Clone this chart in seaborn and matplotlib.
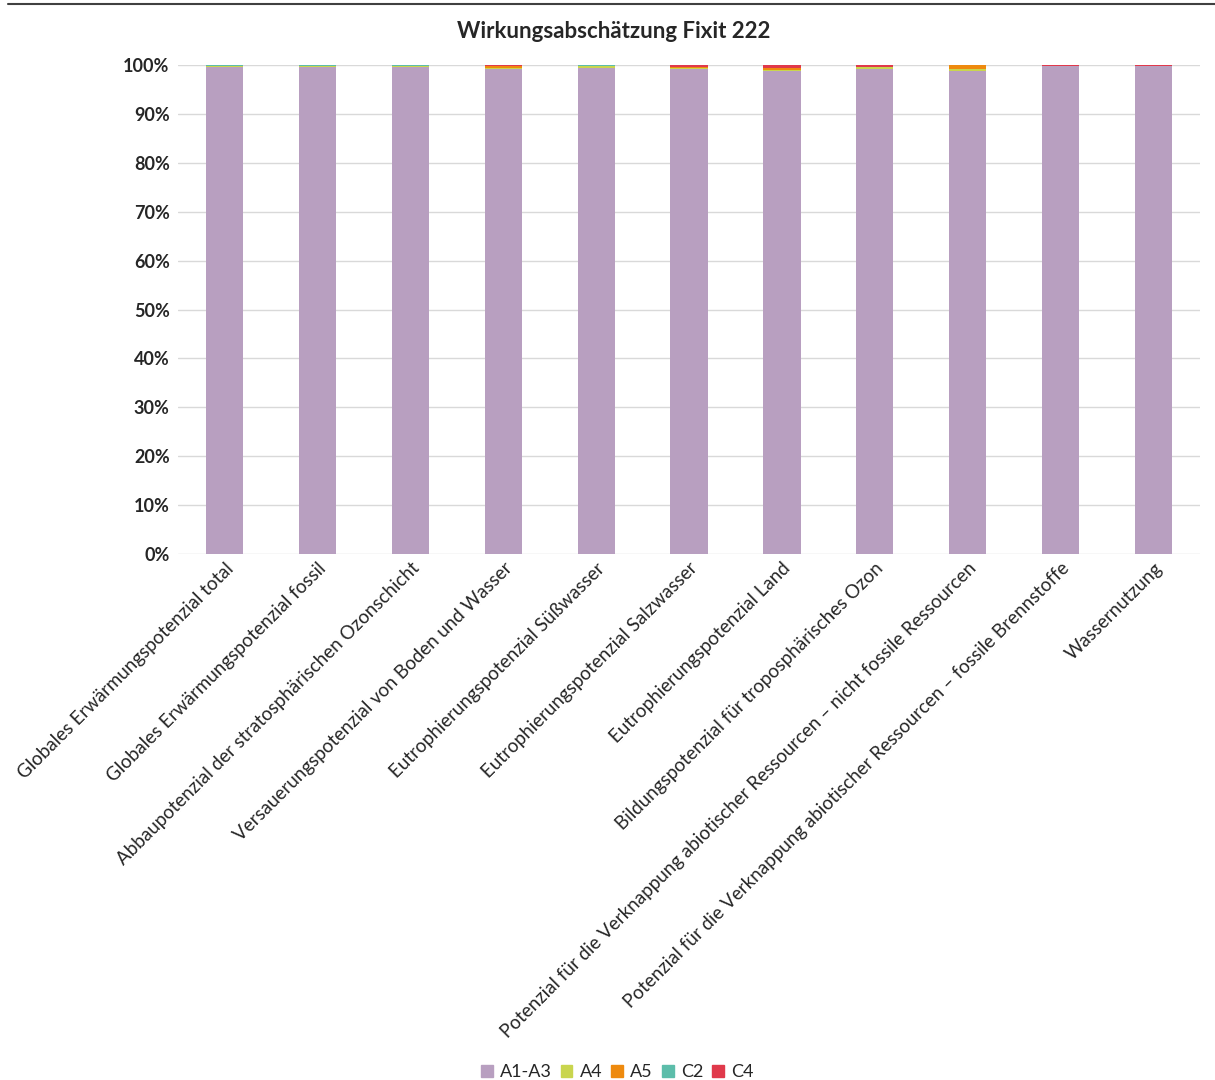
import numpy as np
import matplotlib.pyplot as plt
import matplotlib.lines as mlines
import seaborn as sns
import pandas as pd

categories = [
    "Globales Erwärmungspotenzial total",
    "Globales Erwärmungspotenzial fossil",
    "Abbaupotenzial der stratosphärischen Ozonschicht",
    "Versauerungspotenzial von Boden und Wasser",
    "Eutrophierungspotenzial Süßwasser",
    "Eutrophierungspotenzial Salzwasser",
    "Eutrophierungspotenzial Land",
    "Bildungspotenzial für troposphärisches Ozon",
    "Potenzial für die Verknappung abiotischer Ressourcen – nicht fossile Ressourcen",
    "Potenzial für die Verknappung abiotischer Ressourcen – fossile Brennstoffe",
    "Wassernutzung",
]
modules = ["A1-A3", "A4", "A5", "C2", "C4"]
a1_a3 = [99.6, 99.6, 99.6, 99.2, 99.3, 99.1, 98.7, 99.2, 98.8, 99.7, 99.7]
a4 = [0.1, 0.1, 0.1, 0.1, 0.6, 0.2, 0.3, 0.3, 0.3, 0.05, 0.05]
a5 = [0.2, 0.2, 0.2, 0.4, 0.0, 0.2, 0.3, 0.1, 0.9, 0.05, 0.1]
c2 = [0.02, 0.02, 0.02, 0.02, 0.02, 0.02, 0.02, 0.02, 0.02, 0.02, 0.02]
c4 = [0.08, 0.08, 0.08, 0.28, 0.08, 0.48, 0.68, 0.38, 0.0, 0.18, 0.13]
colors = ["#B89FC0", "#C9D54E", "#EE8A0E", "#5CBDAA", "#E0394B"]

series = [a1_a3, a4, a5, c2, c4]

sns.set_theme(style="white")
plt.rcParams["font.family"] = ["Lato", "DejaVu Sans"]

fig = plt.figure(figsize=(12.15, 10.8), dpi=100)
ax = fig.add_axes([0.1465, 0.487, 0.8412, 0.4528])

x = np.arange(len(categories))
bottom = np.zeros(len(categories))
for name, vals, col in zip(modules, series, colors):
    df = pd.DataFrame({"x": x, "v": vals})
    sns.barplot(data=df, x="x", y="v", color=col, width=0.4, bottom=bottom,
                ax=ax, linewidth=0, saturation=1, native_scale=True, legend=False)
    bottom = bottom + np.array(vals)

ax.set_xlim(-0.5, len(categories) - 0.5)
ax.set_ylim(0, 100)
ax.set_yticks(np.arange(0, 101, 10))
ax.set_yticklabels([f"{v}%" for v in range(0, 101, 10)], fontsize=13, fontweight="bold")
ax.set_xticks(x)
ax.set_xticklabels(categories, rotation=45, ha="right", rotation_mode="anchor", fontsize=13.5)
ax.tick_params(axis="x", pad=4, length=0)
ax.tick_params(axis="y", pad=6, length=0)
ax.set_xlabel("")
ax.set_ylabel("")
ax.yaxis.grid(True, color="#D9D9D9", linewidth=1)
ax.set_axisbelow(True)
for s in ax.spines.values():
    s.set_visible(False)

# Titel mittig über der Abbildung (nicht über der Achse)
fig.text(614 / 1215, 1 - 31 / 1080, "Wirkungsabschätzung Fixit 222",
         fontsize=16, fontweight="bold", ha="center", va="center")

handles = [plt.Rectangle((0, 0), 1, 1, color=c) for c in colors]
fig.legend(handles, modules, loc="center", bbox_to_anchor=(0.508, 0.007), ncol=5,
           frameon=False, fontsize=13, handlelength=0.65, handleheight=0.65,
           handletextpad=0.4, columnspacing=0.5)

fig.add_artist(mlines.Line2D([8 / 1215, 1.0], [1 - 4 / 1080, 1 - 4 / 1080],
                             color="#404040", linewidth=1.5))

fig.savefig("out.png", dpi=100)
